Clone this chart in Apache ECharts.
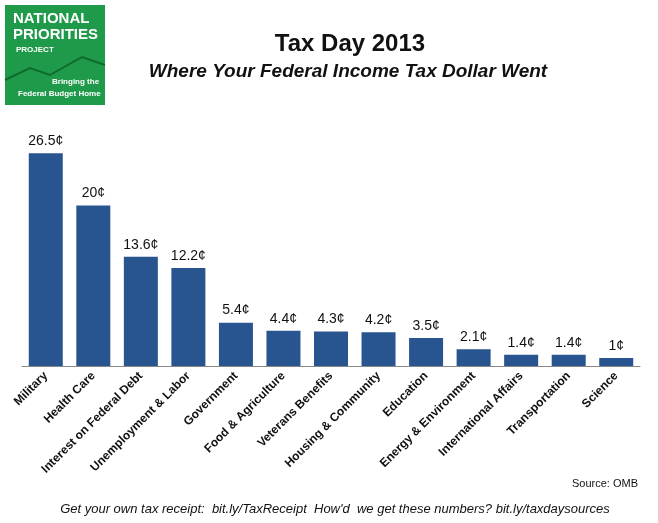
<!DOCTYPE html>
<html>
<head>
<meta charset="utf-8">
<script src="https://cdn.jsdelivr.net/npm/echarts@6/dist/echarts.min.js"></script>
<style>html,body{margin:0;padding:0;background:#fff}#chart{width:658px;height:523px}</style>
</head>
<body>
<div id="chart"></div>
<script>
const categories = ["Military", "Health Care", "Interest on Federal Debt", "Unemployment & Labor", "Government",
  "Food & Agriculture", "Veterans Benefits", "Housing & Community", "Education", "Energy & Environment",
  "International Affairs", "Transportation", "Science"];
const cents = [26.5, 20, 13.6, 12.2, 5.4, 4.4, 4.3, 4.2, 3.5, 2.1, 1.4, 1.4, 1];

const chart = echarts.init(document.getElementById("chart"));
const font = "Arial, 'Liberation Sans', sans-serif";
chart.setOption({
  backgroundColor: "#fff",
  animation: false,
  textStyle: { fontFamily: font },
  grid: { left: 22, right: 18, top: 101, bottom: 157, containLabel: false },
  xAxis: {
    type: "category",
    data: categories,
    axisTick: { show: false },
    axisLine: { lineStyle: { color: "#888", width: 1 } },
    axisLabel: { rotate: 45, interval: 0, fontWeight: "bold", fontSize: 12, color: "#111", margin: 8, fontFamily: font },
  },
  yAxis: { type: "value", min: 0, max: 33, show: false, splitLine: { show: false } },
  series: [{
    type: "bar",
    data: cents,
    barWidth: 34,
    itemStyle: { color: "#28548f" },
    label: { show: true, position: "top", distance: 5, fontSize: 14, color: "#111", fontFamily: font, formatter: (p) => p.value + "¢" },
  }],
  graphic: [
    { type: "rect", shape: { x: 5, y: 5, width: 100, height: 100 }, style: { fill: "#1f9a4a" } },
    { type: "text", left: 13, top: 11, style: { text: "NATIONAL\nPRIORITIES", font: "bold 15px " + font, fill: "#fff", lineHeight: 16 } },
    { type: "text", left: 16, top: 46, style: { text: "PROJECT", font: "bold 8px " + font, fill: "#fff" } },
    { type: "polyline", shape: { points: [[5, 80], [30, 68], [50, 75], [82, 57], [105, 65]] }, style: { stroke: "#0e6b2e", lineWidth: 2, fill: null } },
    { type: "text", left: 52, top: 78, style: { text: "Bringing the", font: "bold 8px " + font, fill: "#fff" } },
    { type: "text", left: 18, top: 90, style: { text: "Federal Budget Home", font: "bold 8px " + font, fill: "#fff" } },
    { type: "text", x: 350, y: 32, style: { text: "Tax Day 2013", font: "bold 24px " + font, fill: "#111", textAlign: "center" } },
    { type: "text", x: 348, y: 62, style: { text: "Where Your Federal Income Tax Dollar Went", font: "italic bold 19px " + font, fill: "#111", textAlign: "center" } },
    { type: "text", right: 20, top: 478, style: { text: "Source: OMB", font: "11px " + font, fill: "#111" } },
    { type: "text", x: 335, y: 503, style: { text: "Get your own tax receipt:  bit.ly/TaxReceipt  How'd  we get these numbers? bit.ly/taxdaysources", font: "italic 13px " + font, fill: "#111", textAlign: "center" } },
  ],
});
</script>
</body>
</html>
